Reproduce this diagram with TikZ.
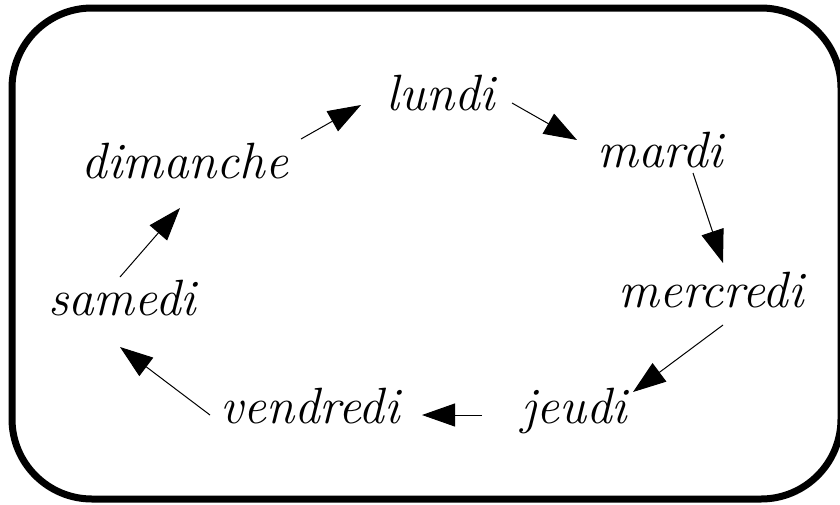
\documentclass[tikz,border=0pt]{standalone}
\usepackage{fontspec}
\usetikzlibrary{arrows.meta,calc}
\tikzset{
  day/.style={anchor=base, inner sep=0pt, font=\fontsize{51}{56}\selectfont\itshape},
  flow/.style={line width=1pt, -{Triangle[length=33pt,width=23pt]}},
  frame/.style={line width=7pt, rounded corners=80pt}
}
\begin{document}
\begin{tikzpicture}[x=1pt,y=-1pt]
\useasboundingbox (0,0) rectangle (840,504);
\draw[frame] (12,8) rectangle (841,499);
\node[day] (lundi)    at (441,110) {lundi};
\node[day] (mardi)    at (660,167) {mardi};
\node[day] (mercredi) at (711,307) {mercredi};
\node[day] (jeudi)    at (574,423) {jeudi};
\node[day] (vendredi) at (310,423) {vendredi};
\node[day] (samedi)   at (122,315) {samedi};
\node[day] (dimanche) at (185,178) {dimanche};
\draw[flow] ($(dimanche.base)+(116,-39)$) -- ($(lundi.base)+(-80,-5)$);
\draw[flow] ($(lundi.base)+(71,-7)$) -- ($(mardi.base)+(-83,-27)$);
\draw[flow] ($(mardi.base)+(33,6)$) -- ($(mercredi.base)+(12,-44)$);
\draw[flow] ($(mercredi.base)+(12,18)$) -- ($(jeudi.base)+(59,-31)$);
\draw[flow] ($(jeudi.base)+(-92,-8)$) -- ($(vendredi.base)+(112,-8)$);
\draw[flow] ($(vendredi.base)+(-100,-8)$) -- ($(samedi.base)+(-2,32)$);
\draw[flow] ($(samedi.base)+(-2,-38)$) -- ($(dimanche.base)+(-5,30)$);
\end{tikzpicture}
\end{document}
